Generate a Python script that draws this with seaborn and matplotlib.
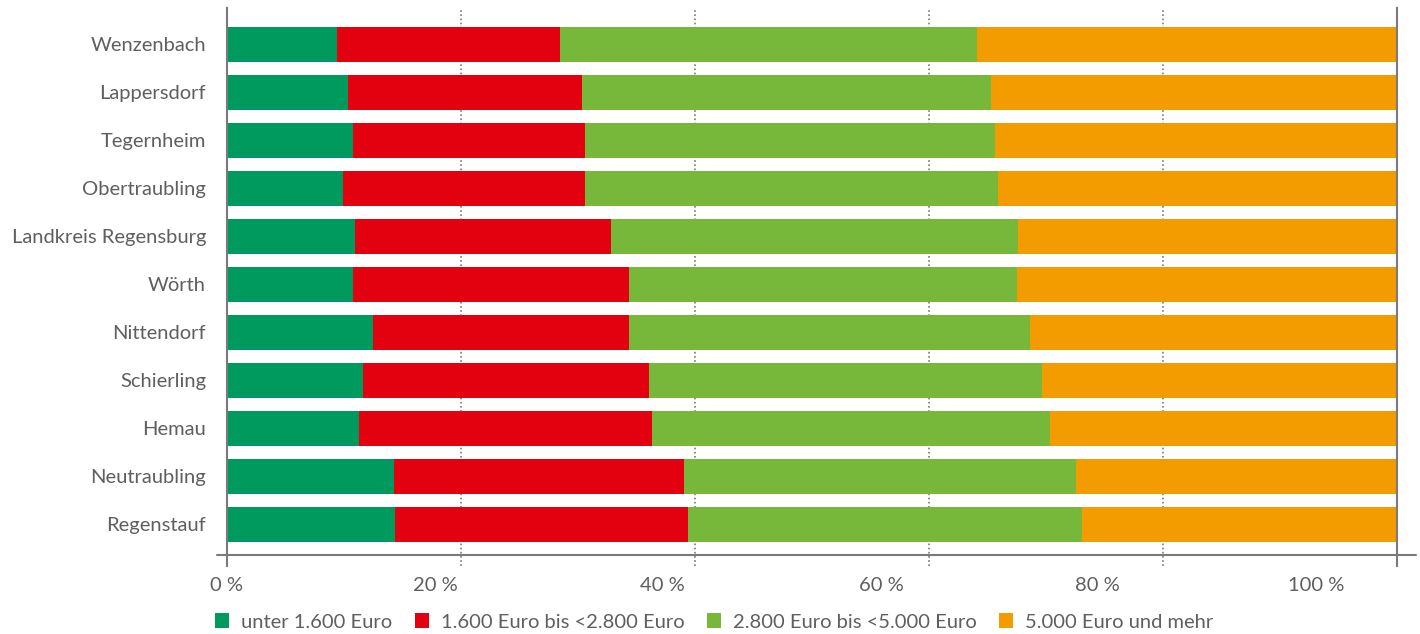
import matplotlib
matplotlib.use("Agg")
import matplotlib.pyplot as plt
from matplotlib.patches import Patch
import seaborn as sns
import pandas as pd
import numpy as np

orte = ["Wenzenbach", "Lappersdorf", "Tegernheim", "Obertraubling",
        "Landkreis Regensburg", "Wörth", "Nittendorf", "Schierling",
        "Hemau", "Neutraubling", "Regenstauf"]

unter_1600 = [9.4, 10.3, 10.8, 9.9, 10.9, 10.8, 12.5, 11.6, 11.3, 14.3, 14.4]
bis_2800 = [19.1, 20.0, 19.8, 20.7, 21.9, 23.6, 21.9, 24.5, 25.0, 24.8, 25.0]
bis_5000 = [35.6, 35.0, 35.0, 35.3, 34.8, 33.1, 34.2, 33.6, 34.0, 33.5, 33.7]
ab_5000 = [35.9, 34.7, 34.4, 34.1, 32.4, 32.5, 31.4, 30.3, 29.7, 27.4, 26.9]

serien = ["unter 1.600 Euro", "1.600 Euro bis <2.800 Euro",
          "2.800 Euro bis <5.000 Euro", "5.000 Euro und mehr"]
farben = ["#009a5f", "#e3000f", "#77b83a", "#f39c00"]

tick_labels = ["0 %", "20 %", "40 %", "60 %", "80 %", "100 %"]

df = pd.DataFrame({"Ort": orte, serien[0]: unter_1600, serien[1]: bis_2800,
                   serien[2]: bis_5000, serien[3]: ab_5000})
cum = df[serien].cumsum(axis=1)

sns.set_style("white")
plt.rcParams["font.family"] = ["Lato", "DejaVu Sans"]
grau = "#5f5f5f"
linie = "#7a7a7a"
fs = 14.5

fig = plt.figure(figsize=(14.2, 6.34), dpi=100)
ax = fig.add_axes([227 / 1420, 1 - 566 / 634, 1170 / 1420, 558 / 634])

# stacked bars: draw cumulative totals from largest to smallest
for s, c in reversed(list(zip(serien, farben))):
    sns.barplot(x=cum[s], y=df["Ort"], order=orte, color=c, width=0.72,
                orient="h", linewidth=0, edgecolor="none", saturation=1, ax=ax)

ax.set_xlim(0, 100)
ax.set_ylim(10.865, -0.76)
ax.set_xlabel("")
ax.set_ylabel("")

for side in ["top", "bottom"]:
    ax.spines[side].set_visible(False)
for side in ["left", "right"]:
    ax.spines[side].set_color(linie)
    ax.spines[side].set_linewidth(1.5)

# x axis: dotted grid at 20 % steps, labels where the original puts them
for xv in [20, 40, 60, 80]:
    ax.axvline(xv, color=linie, linestyle=(0, (1, 1.5)), linewidth=1.2, zorder=0.5)
lab_pos = [0, 17.8, 37.2, 55.9, 74.4, 93.1]
ax.set_xticks(lab_pos)
ax.set_xticklabels(tick_labels)
ax.tick_params(axis="x", which="major", length=0, pad=8, labelsize=fs, labelcolor=grau)

# y axis: labels at bar centres, tick marks between bars
ax.set_yticks(range(len(orte)))
ax.set_yticklabels(orte)
ax.tick_params(axis="y", which="major", length=0, pad=15, labelsize=fs, labelcolor=grau)
ax.set_yticks(np.arange(-0.5, len(orte) - 1, 1), minor=True)
ax.tick_params(axis="y", which="minor", length=7.5, width=1.5, color=linie, direction="out")

ax.axhline(10.635, xmin=-0.0085, xmax=1.016, color=linie, linewidth=1.5, clip_on=False)

handles = [Patch(facecolor=c, edgecolor="none") for c in farben]
fig.legend(handles, serien, loc="center", bbox_to_anchor=(0.503, 0.019), ncol=4,
           frameon=False, fontsize=fs, labelcolor=grau, handlelength=0.7,
           handleheight=0.7, handletextpad=0.6, columnspacing=1.1)

fig.savefig("out.png", dpi=100)
